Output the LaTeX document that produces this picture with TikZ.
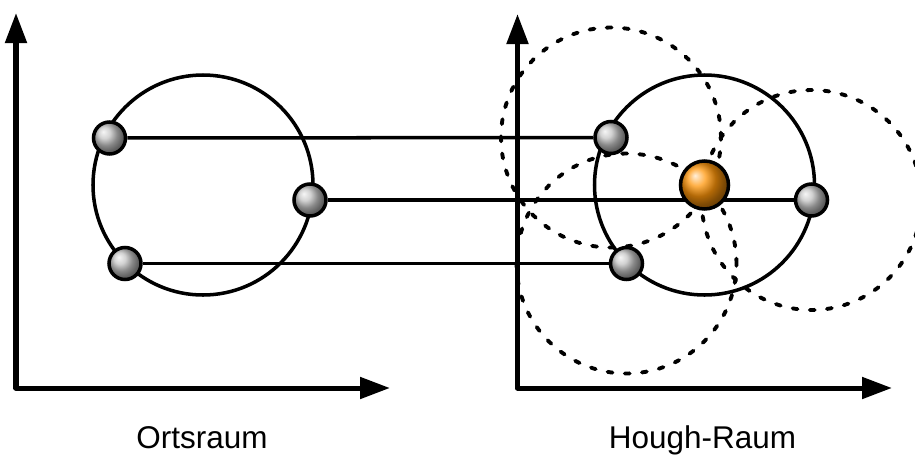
\documentclass[tikz,border=0pt]{standalone}
\usepackage{fontspec}
\setmainfont{Liberation Sans}
\usetikzlibrary{arrows.meta,shadings}

\definecolor{pointgray}{RGB}{195,195,195}
\definecolor{peakorange}{RGB}{255,150,10}

\tikzset{
	axis/.style={line width=2.85pt, line join=round, {Triangle[length=0.6cm,width=0.42cm]}-{Triangle[length=0.6cm,width=0.42cm]}},
	ring/.style={line width=2pt},
	vote/.style={line width=2.2pt, line cap=round, dash pattern=on 2.8pt off 7pt},
	point/.style={shape=circle, draw=black, line width=2pt, minimum size=0.64cm, inner sep=0pt, shading=ball, ball color=pointgray},
	peak/.style={shape=circle, draw=black, line width=2pt, minimum size=0.96cm, inner sep=0pt, shading=ball, ball color=peakorange},
	caption/.style={anchor=base, font=\fontsize{17.9}{20}\selectfont}
}

\begin{document}
\begin{tikzpicture}
	\clip (0,0) rectangle (18.3,-9.12);

	\coordinate (c1) at (4.06,-3.70);
	\coordinate (c2) at (14.09,-3.70);
	\coordinate (o1) at (0.32,-7.76);
	\coordinate (y1) at (0.32,-0.26);
	\coordinate (x1) at (7.80,-7.76);
	\coordinate (o2) at (10.35,-7.76);
	\coordinate (y2) at (10.35,-0.28);
	\coordinate (x2) at (17.84,-7.76);

	\draw [axis] (y1) -- (o1) -- (x1);
	\draw [axis] (y2) -- (o2) -- (x2);

	\draw [ring] (c1) circle (2.2);
	\draw [ring] (c2) circle (2.2);

	\draw [vote] (12.22,-2.75) circle (2.2);
	\draw [vote] (16.23,-4.00) circle (2.2);
	\draw [vote] (12.53,-5.27) circle (2.2);

	\node[point] (p1) at (2.19,-2.76)  {};
	\node[point] (p2) at (6.20,-4.00)  {};
	\node[point] (p3) at (2.50,-5.27)  {};
	\node[point] (q1) at (12.22,-2.75) {};
	\node[point] (q2) at (16.23,-4.00) {};
	\node[point] (q3) at (12.53,-5.27) {};

	\path [-, ring] (p1) edge (q1);
	\path [-, ring] (p2) edge (q2);
	\path [-, ring] (p3) edge (q3);

	\node[peak] (m) at (c2) {};

	\node[caption] (ort)   at (4.04,-8.96)  {Ortsraum};
	\node[caption] (hough) at (14.05,-8.96) {Hough-Raum};
\end{tikzpicture}
\end{document}
